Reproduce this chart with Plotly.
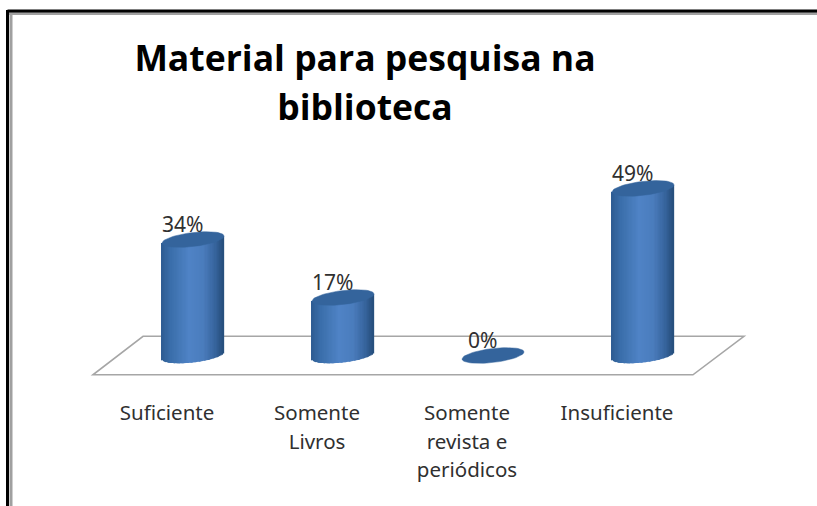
import math
import plotly.graph_objects as go

title_lines = ["Material para pesquisa na", "biblioteca"]
categories = [["Suficiente"], ["Somente", "Livros"], ["Somente", "revista e", "periódicos"], ["Insuficiente"]]
values = [34, 17, 0, 49]

W, H = 817, 506
ML, MR, MT, MB = 43, 54, 130, 130
XR = [-1.0, 3.8]
PX_PER_VAL = 3.41
YR = [-20 / PX_PER_VAL - 0.15, (376 - 130 - 20) / PX_PER_VAL - 0.15]
PX_PER_CAT = (W - ML - MR) / (XR[1] - XR[0])
RX = 31 / PX_PER_CAT
RY_PX, TILT_PX = 7.0, 3.5
N = 48
LABEL_OFFSET = -26 / PX_PER_CAT
FLOOR_FRONT = -19.3 / PX_PER_VAL
FLOOR_BACK = 19.2 / PX_PER_VAL

stops = [(-1.0, (46, 92, 146)), (-0.7, (58, 110, 170)), (-0.1, (79, 131, 198)),
         (0.35, (74, 124, 188)), (0.7, (56, 102, 160)), (1.0, (38, 78, 124))]

def shade(t):
    for (a, ca), (b, cb) in zip(stops, stops[1:]):
        if t <= b:
            f = (t - a) / (b - a)
            return "rgb(%d,%d,%d)" % tuple(round(p + (q - p) * f) for p, q in zip(ca, cb))
    return "rgb(38,78,124)"

xs, tops, bases, cols = [], [], [], []
for i, v in enumerate(values):
    if v == 0:
        continue
    for k in range(N):
        t = -1 + (k + 0.5) * 2 / N
        low = -(RY_PX * math.sqrt(1 - t * t) - TILT_PX * t) / PX_PER_VAL
        up = v + TILT_PX * t / PX_PER_VAL
        xs.append(i + t * RX)
        bases.append(low)
        tops.append(up - low)
        cols.append(shade(t))

fig = go.Figure()
fig.add_trace(go.Bar(x=xs, y=tops, base=bases, width=RX * 2 / N * 1.25,
                     marker=dict(color=cols, line=dict(width=0)), hoverinfo="skip", showlegend=False))
for i, v in enumerate(values):
    ex, ey = [], []
    for a in range(0, 361, 6):
        th = math.radians(a)
        ex.append(i + RX * math.cos(th))
        ey.append(v + (TILT_PX * math.cos(th) + RY_PX * math.sin(th)) / PX_PER_VAL)
    fig.add_trace(go.Scatter(x=ex, y=ey, mode="lines", fill="toself", fillcolor="#34649c",
                             line=dict(color="#34649c", width=0.5), hoverinfo="skip", showlegend=False))

floor = f"M -0.667 {FLOOR_FRONT} L 3.333 {FLOOR_FRONT} L 3.673 {FLOOR_BACK} L -0.333 {FLOOR_BACK} Z"
shapes = [
    dict(type="path", path=floor, xref="x", yref="y", layer="below", line=dict(color="#a6a6a6", width=1.6)),
    dict(type="line", xref="paper", yref="paper", x0=(9 - ML) / (W - ML - MR), x1=1.1,
         y0=(H - MB - 13.5) / (H - MT - MB), y1=(H - MB - 13.5) / (H - MT - MB), line=dict(color="#a0a0a0", width=3)),
]
fig.update_layout(
    width=W, height=H, autosize=False, margin=dict(l=ML, r=MR, t=MT, b=MB),
    paper_bgcolor="white", plot_bgcolor="rgba(0,0,0,0)", barmode="overlay", showlegend=False,
    title=dict(text="<br>".join("<span style='font-size:35.5px'>%s</span>" % s for s in title_lines),
               x=365 / W, xanchor="center", y=1 - 71 / H, yanchor="top",
               font=dict(family="Open Sans", size=38, color="#000000", weight=700)),
    xaxis=dict(range=XR, tickmode="array", tickvals=[i + LABEL_OFFSET for i in range(len(categories))],
               ticktext=["<br>".join("<span style='font-size:20.5px'>%s</span>" % s for s in c) for c in categories],
               tickfont=dict(family="Noto Sans", size=22, color="#303030"),
               ticks="", showgrid=False, zeroline=False, showline=False, ticklabelstandoff=21, fixedrange=True),
    yaxis=dict(range=YR, visible=False, fixedrange=True),
    shapes=shapes,
)
for i, v in enumerate(values):
    fig.add_annotation(x=i, y=v, xref="x", yref="y", text="%d%%" % v, showarrow=False,
                       xshift=-11, yshift=15.5, font=dict(family="Noto Sans", size=21, color="#303030"))
# outer black frame
fig.add_shape(type="line", xref="paper", yref="paper", x0=(7.5 - ML) / (W - ML - MR), x1=1.1,
              y0=(H - MB - 11) / (H - MT - MB), y1=(H - MB - 11) / (H - MT - MB), line=dict(color="#000000", width=3))
fig.add_shape(type="line", xref="paper", yref="paper", x0=(7.5 - ML) / (W - ML - MR), x1=(7.5 - ML) / (W - ML - MR),
              y0=(H - MB - 10) / (H - MT - MB), y1=-1, line=dict(color="#000000", width=3))
fig.add_shape(type="line", xref="paper", yref="paper", x0=(11 - ML) / (W - ML - MR), x1=(11 - ML) / (W - ML - MR),
              y0=(H - MB - 13) / (H - MT - MB), y1=-1, line=dict(color="#a0a0a0", width=3))
fig.write_html("out.html", config={"displayModeBar": False},
               post_script="document.body.style.margin='0';document.body.style.overflow='hidden';")
